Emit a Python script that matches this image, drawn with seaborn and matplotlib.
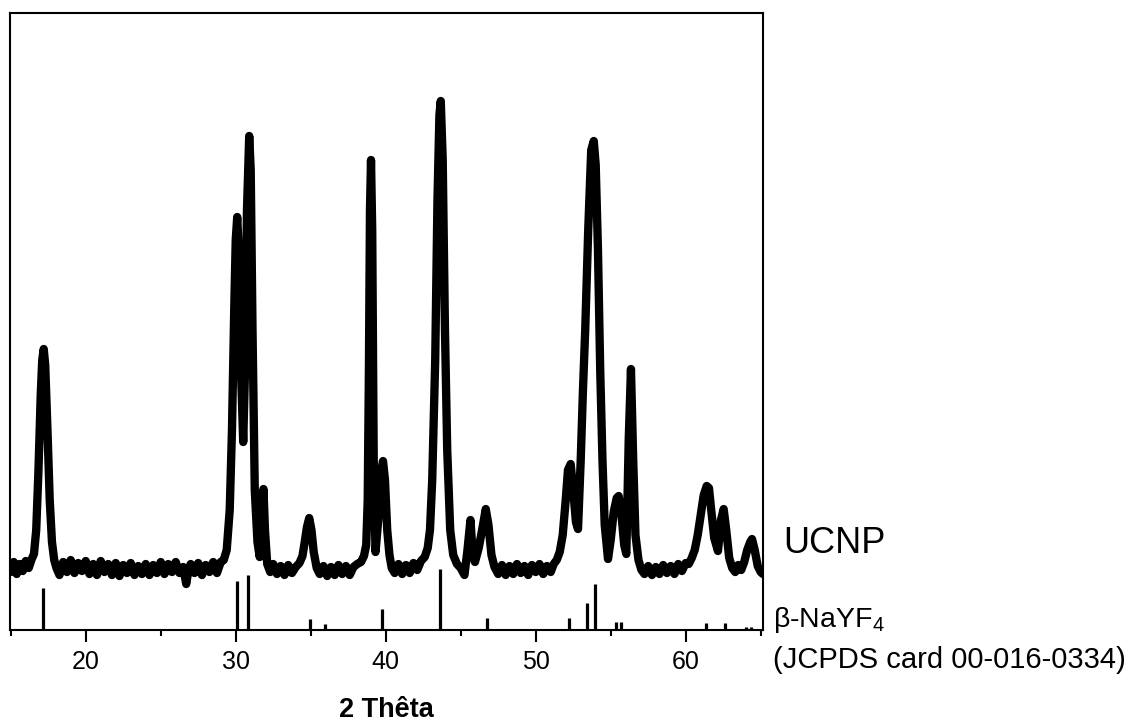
import numpy as np
import matplotlib
matplotlib.use("Agg")
import matplotlib.pyplot as plt
from matplotlib.ticker import MultipleLocator
import seaborn as sns

# XRD pattern of the UCNP sample (2theta in degrees, arb. units)
theta_a = [15.0, 15.2, 15.4, 15.6, 15.8, 16.0, 16.2, 16.4,
           16.55, 16.7, 16.85, 17.0, 17.1, 17.2, 17.3, 17.45, 17.6, 17.75, 17.9, 18.05]
count_a = [58, 68, 56, 66, 59, 69, 62, 71,
           76, 100, 160, 235, 270, 281, 265, 200, 130, 88, 70, 62]

theta_b = [18.25, 18.5, 18.75, 19.0, 19.25, 19.5, 19.75, 20.0, 20.25,
           20.5, 20.75, 21.0, 21.25, 21.5, 21.75, 22.0, 22.25, 22.5,
           22.75, 23.0, 23.25, 23.5, 23.75, 24.0, 24.25, 24.5, 24.75,
           25.0, 25.25, 25.5, 25.75, 26.0, 26.25, 26.5, 26.7, 26.85,
           27.0, 27.25, 27.5, 27.75, 28.0, 28.25, 28.5, 28.75, 29.0]
count_b = [55, 68, 58, 70, 57, 67, 59, 69, 56,
           66, 55, 69, 58, 66, 55, 67, 54, 65,
           57, 67, 55, 64, 56, 66, 55, 65, 57,
           68, 56, 66, 58, 68, 57, 63, 46, 60,
           66, 57, 67, 55, 65, 58, 68, 57, 68]

theta_c = [29.2, 29.4, 29.6, 29.75, 29.9, 30.0, 30.1, 30.2, 30.35, 30.5,
           30.62, 30.75, 30.9, 31.0, 31.12, 31.27, 31.45, 31.6, 31.72, 31.85,
           31.95, 32.1, 32.3]
count_c = [70, 80, 120, 200, 320, 390, 413, 380, 260, 188,
           260, 420, 494, 460, 300, 140, 88, 73, 110, 141,
           100, 66, 58]

theta_d = [32.5, 32.75, 33.0, 33.25, 33.5, 33.75, 34.0, 34.25, 34.45, 34.6, 34.75, 34.9, 35.05, 35.2, 35.4,
           35.6, 35.85, 36.1, 36.35, 36.6, 36.85, 37.1, 37.35, 37.6, 37.85, 38.1, 38.35, 38.55]
count_d = [66, 56, 64, 55, 65, 57, 63, 67, 74, 88, 103, 112, 100, 78, 62,
           56, 64, 54, 63, 55, 65, 56, 64, 55, 63, 66, 68, 74]

theta_e = [38.7, 38.8, 38.88, 38.95, 39.02, 39.1, 39.2, 39.32, 39.5, 39.65, 39.82, 39.95, 40.1, 40.25, 40.4]
count_e = [85, 130, 260, 420, 470, 400, 170, 78, 110, 155, 169, 150, 100, 75, 62]

theta_f = [40.6, 40.85, 41.1, 41.35, 41.6, 41.85, 42.1, 42.35, 42.6, 42.8]
count_f = [57, 66, 56, 65, 57, 67, 60, 69, 73, 82]

theta_g = [42.95, 43.1, 43.3, 43.45, 43.58, 43.67, 43.8, 43.95, 44.1, 44.3,
           44.5, 44.75, 45.0, 45.25, 45.45, 45.65, 45.8, 45.95, 46.2, 46.45,
           46.67, 46.85, 47.05, 47.25]
count_g = [100, 150, 270, 430, 515, 529, 470, 300, 180, 100,
           75, 66, 62, 55, 80, 110, 75, 68, 82, 102,
           121, 105, 75, 63]

theta_h = [47.5, 47.75, 48.0, 48.25, 48.5, 48.75, 49.0, 49.25, 49.5,
           49.75, 50.0, 50.25, 50.5, 50.75, 51.0, 51.2, 51.4, 51.6]
count_h = [56, 65, 55, 64, 56, 66, 57, 64, 55,
           65, 58, 66, 56, 64, 58, 66, 70, 78]

theta_i = [51.8, 52.0, 52.15, 52.33, 52.5, 52.68, 52.82, 53.0, 53.15, 53.3,
           53.5, 53.7, 53.87, 54.0, 54.15, 54.3, 54.45, 54.6, 54.82, 55.0,
           55.2, 55.4, 55.53, 55.7, 55.9, 56.04, 56.2, 56.35, 56.5, 56.65,
           56.85, 57.05]
count_i = [95, 130, 160, 166, 140, 108, 101, 170, 240, 300,
           400, 480, 489, 465, 380, 260, 170, 105, 71, 90,
           118, 132, 134, 118, 85, 76, 190, 261, 170, 95,
           70, 60]

theta_j = [57.25, 57.5, 57.75, 58.0, 58.25, 58.5, 58.75, 59.0, 59.25, 59.5, 59.75, 60.0, 60.2, 60.4, 60.6]
count_j = [56, 64, 55, 63, 56, 65, 57, 64, 56, 66, 59, 67, 66, 72, 80]

theta_k = [60.8, 61.0, 61.2, 61.4, 61.55, 61.7, 61.9, 62.15, 62.35, 62.53,
           62.7, 62.9, 63.1, 63.3, 63.5, 63.7, 63.9, 64.1, 64.3, 64.42,
           64.6, 64.8, 65.0, 65.15]
count_k = [95, 115, 135, 144, 142, 120, 92, 79, 110, 121,
           100, 72, 62, 58, 65, 60, 68, 80, 88, 91,
           80, 64, 58, 56]

# reference card lines (beta-NaYF4, JCPDS 00-016-0334)
ref_theta = [17.15, 30.11, 30.85, 34.93, 35.98, 39.78, 43.65, 46.78, 52.2,
             53.45, 53.95, 55.38, 55.68, 61.38, 62.6, 64.0, 64.33]
ref_height = [42, 49, 55, 10.7, 6, 21, 61, 11.7, 11.7,
              27.3, 46, 8, 8, 6.7, 6.7, 3, 3]

x_ticks = [20, 30, 40, 50, 60]

two_theta = np.concatenate([theta_a, theta_b, theta_c, theta_d, theta_e, theta_f,
                            theta_g, theta_h, theta_i, theta_j, theta_k])
counts = np.concatenate([count_a, count_b, count_c, count_d, count_e, count_f,
                         count_g, count_h, count_i, count_j, count_k])

sns.set_style("ticks")
plt.rcParams['font.family'] = ['Liberation Sans', 'DejaVu Sans']
plt.rcParams['mathtext.fontset'] = 'custom'
plt.rcParams['mathtext.rm'] = 'Liberation Sans'
plt.rcParams['text.color'] = 'black'
plt.rcParams['axes.labelcolor'] = 'black'
plt.rcParams['xtick.color'] = 'black'
plt.rcParams['xtick.labelcolor'] = 'black'

fig = plt.figure(figsize=(11.33, 7.22), dpi=100)
ax = fig.add_axes([0.0088, 0.1274, 0.6646, 0.8546])

sns.lineplot(x=two_theta, y=counts, ax=ax, color='black', linewidth=6,
             solid_joinstyle='round', solid_capstyle='round')
ax.vlines(ref_theta, 0, ref_height, color='black', linewidth=2.3)

ax.set_xlim(14.95, 65.15)
ax.set_ylim(0, 617)
ax.set_xticks(x_ticks)
ax.xaxis.set_minor_locator(MultipleLocator(5))
ax.set_yticks([])
ax.tick_params(axis='x', which='major', direction='out', length=8.5, width=1.5,
               labelsize=18, pad=6, color='black', labelcolor='black')
ax.tick_params(axis='x', which='minor', direction='out', length=4.3, width=1.5, color='black')
for s in ax.spines.values():
    s.set_visible(True)
    s.set_linewidth(1.5)
    s.set_color('black')

ax.set_xlabel('2 Thêta', fontsize=19.5, fontweight='bold', labelpad=16.5, color='black')
ax.set_ylabel('')

ax.text(66.47, 77, 'UCNP', fontsize=26, va='baseline', ha='left', clip_on=False, color='black')
ax.text(65.8, 3.3, r'β-NaYF$_4$', fontsize=20.5, va='baseline', ha='left', clip_on=False,
        color='black')
ax.text(65.8, -38, '(JCPDS card 00-016-0334)', fontsize=21, va='baseline', ha='left',
        clip_on=False, color='black')

fig.savefig('out.png', dpi=100)
